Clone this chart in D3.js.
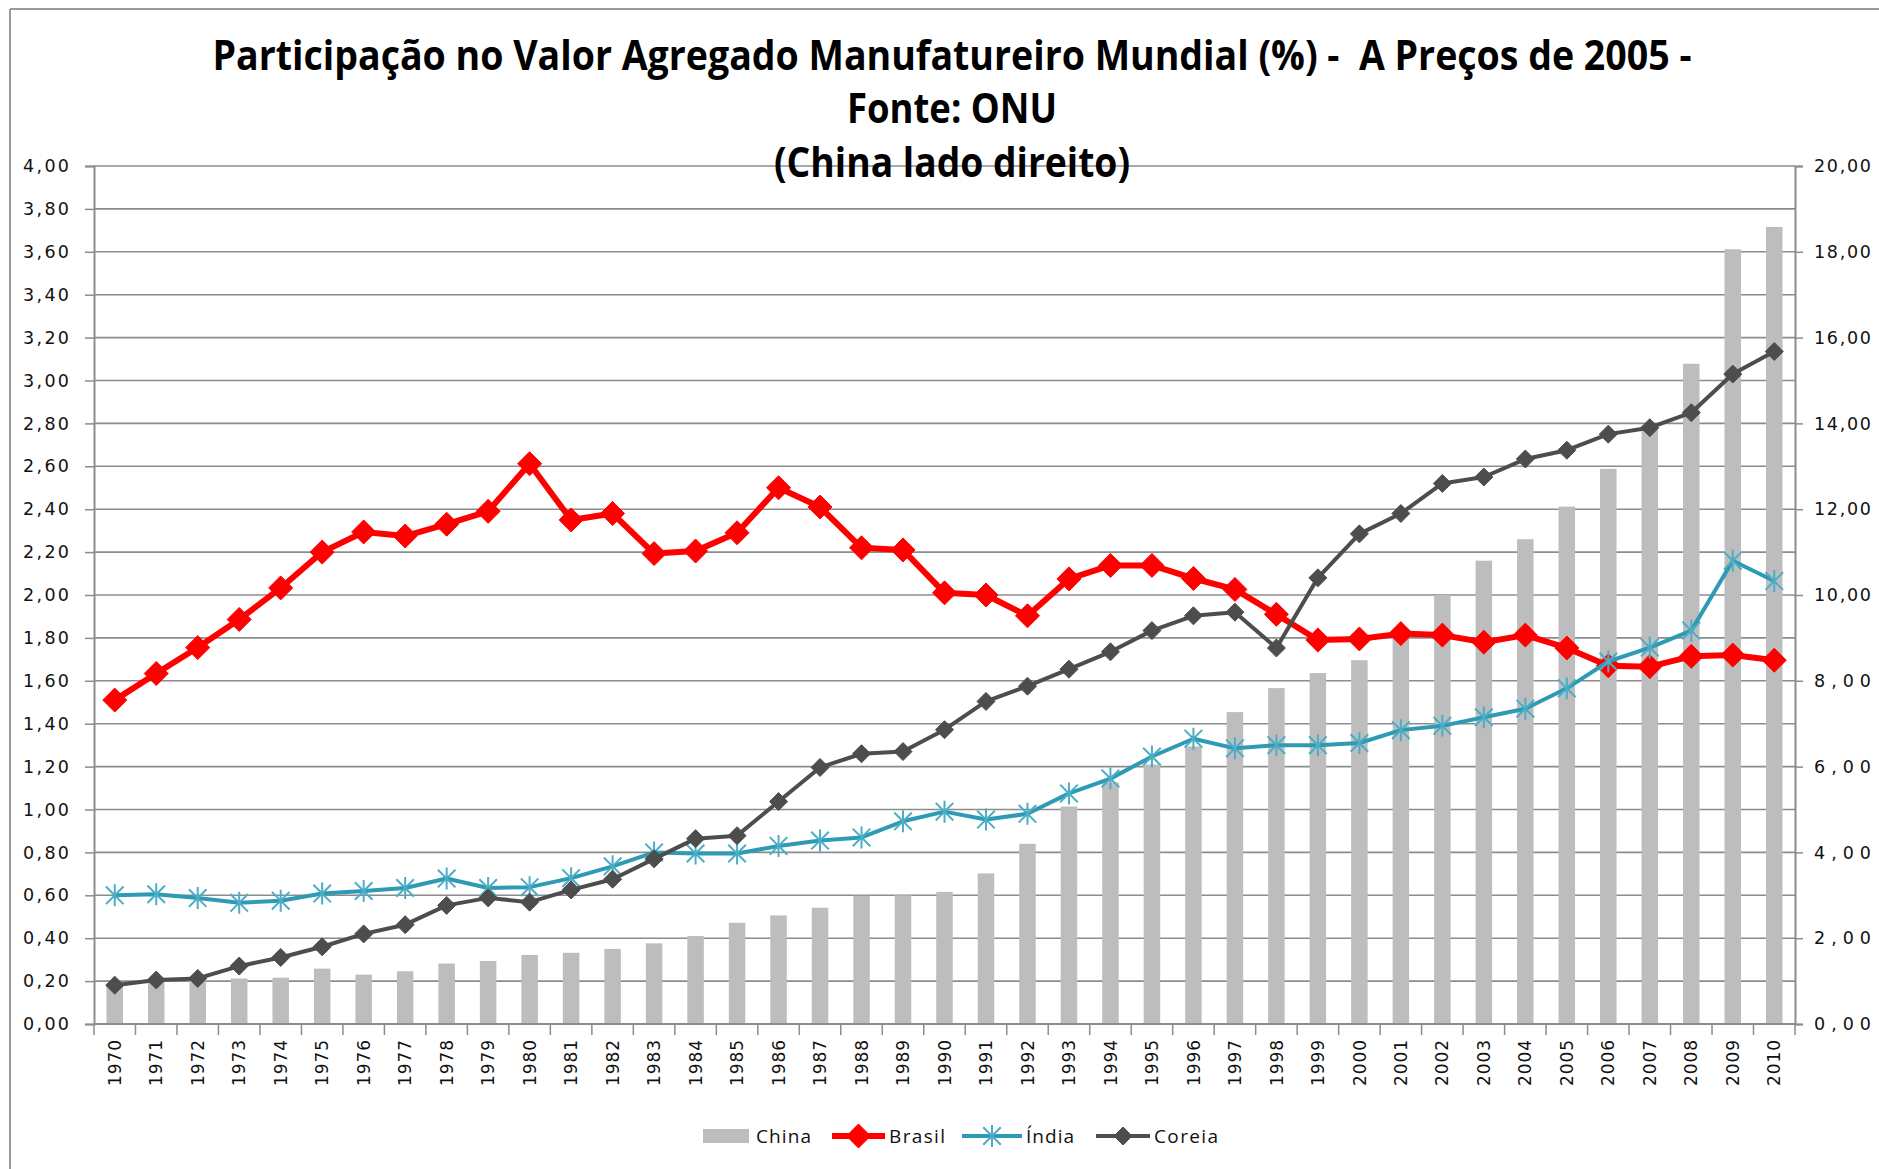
<!DOCTYPE html>
<html>
<head>
<meta charset="utf-8">
<script src="https://cdn.jsdelivr.net/npm/d3@7"></script>
<style>
  body { margin: 0; background: #fff; }
  svg { display: block; }
</style>
</head>
<body>
<div id="chart"></div>
<script>
// categories and series
const years = [1970, 1971, 1972, 1973, 1974, 1975, 1976, 1977, 1978, 1979,
               1980, 1981, 1982, 1983, 1984, 1985, 1986, 1987, 1988, 1989,
               1990, 1991, 1992, 1993, 1994, 1995, 1996, 1997, 1998, 1999,
               2000, 2001, 2002, 2003, 2004, 2005, 2006, 2007, 2008, 2009, 2010];

// China - right axis
const china = [0.95, 1.00, 1.05, 1.06, 1.08, 1.29, 1.15, 1.23, 1.41, 1.47,
               1.61, 1.66, 1.75, 1.88, 2.05, 2.36, 2.53, 2.71, 2.99, 3.00,
               3.08, 3.51, 4.20, 5.07, 5.63, 6.05, 6.47, 7.27, 7.83, 8.18,
               8.48, 9.10, 10.00, 10.80, 11.30, 12.06, 12.94, 13.95, 15.39, 18.06, 18.58];

const brasil = [1.51, 1.634, 1.755, 1.886, 2.033, 2.20, 2.294, 2.275, 2.33, 2.39,
                2.612, 2.35, 2.38, 2.193, 2.205, 2.29, 2.50, 2.41, 2.22, 2.21,
                2.01, 2.00, 1.903, 2.075, 2.138, 2.138, 2.077, 2.026, 1.91, 1.79,
                1.795, 1.82, 1.813, 1.78, 1.813, 1.753, 1.67, 1.666, 1.714, 1.72, 1.696];

const india = [0.60, 0.605, 0.587, 0.565, 0.575, 0.608, 0.62, 0.634, 0.678, 0.634,
               0.638, 0.68, 0.735, 0.80, 0.795, 0.795, 0.83, 0.855, 0.87, 0.945,
               0.99, 0.953, 0.98, 1.075, 1.144, 1.247, 1.33, 1.285, 1.30, 1.30,
               1.31, 1.37, 1.39, 1.43, 1.47, 1.565, 1.69, 1.755, 1.834, 2.16, 2.065];

const coreia = [0.181, 0.205, 0.2125, 0.27, 0.31, 0.36, 0.42, 0.463, 0.553, 0.588,
                0.568, 0.625, 0.675, 0.77, 0.864, 0.878, 1.037, 1.196, 1.26, 1.27,
                1.372, 1.504, 1.575, 1.654, 1.735, 1.834, 1.903, 1.92, 1.753, 2.08,
                2.285, 2.38, 2.52, 2.55, 2.634, 2.675, 2.75, 2.78, 2.85, 3.03, 3.135];

const leftTicks = [0, 0.2, 0.4, 0.6, 0.8, 1.0, 1.2, 1.4, 1.6, 1.8, 2.0,
                   2.2, 2.4, 2.6, 2.8, 3.0, 3.2, 3.4, 3.6, 3.8, 4.0];
const rightTicks = [0, 2, 4, 6, 8, 10, 12, 14, 16, 18, 20];

const titleLines = ["Participação no Valor Agregado Manufatureiro Mundial (%) -  A Preços de 2005 -",
                    "Fonte: ONU",
                    "(China lado direito)"];

const W = 1879, H = 1169;
const plot = {left: 94, right: 1795, top: 166, bottom: 1024};

const svg = d3.select("#chart").append("svg")
    .attr("width", W)
    .attr("height", H);

// outer frame (top and left edge of the chart box)
svg.append("line").attr("x1", 10).attr("y1", 9).attr("x2", W).attr("y2", 9)
    .attr("stroke", "#9a9a9a").attr("stroke-width", 2);
svg.append("line").attr("x1", 10).attr("y1", 9).attr("x2", 10).attr("y2", H)
    .attr("stroke", "#9a9a9a").attr("stroke-width", 2);

// scales
const x = d3.scaleBand().domain(years).range([plot.left, plot.right]).padding(0);
const yL = d3.scaleLinear().domain([0, 4]).range([plot.bottom, plot.top]);
const yR = d3.scaleLinear().domain([0, 20]).range([plot.bottom, plot.top]);

const fmt = v => d3.format(".2f")(v).replace(".", ",");

// gridlines
svg.append("g")
    .selectAll("line")
    .data(leftTicks.filter(d => d > 0))
    .join("line")
    .attr("x1", plot.left).attr("x2", plot.right)
    .attr("y1", d => yL(d)).attr("y2", d => yL(d))
    .attr("stroke", "#8c8c8c")
    .attr("stroke-width", 1.6);

// China bars
const barW = 16.5;
svg.append("g")
    .selectAll("rect")
    .data(years)
    .join("rect")
    .attr("x", (d) => x(d) + x.bandwidth() / 2 - barW / 2)
    .attr("width", barW)
    .attr("y", (d, i) => yR(china[i]))
    .attr("height", (d, i) => plot.bottom - yR(china[i]))
    .attr("fill", "#bdbdbd");

// left axis
const axL = svg.append("g")
    .attr("transform", `translate(${plot.left},0)`)
    .call(d3.axisLeft(yL).tickValues(leftTicks).tickSize(9).tickFormat(fmt));
axL.select(".domain").attr("stroke", "#8c8c8c").attr("stroke-width", 2);
axL.selectAll(".tick line").attr("stroke", "#8c8c8c").attr("stroke-width", 1.5);
axL.selectAll(".tick text")
    .attr("x", -25)
    .attr("font-family", "DejaVu Sans, Verdana, sans-serif")
    .attr("font-size", 17.5)
    .attr("fill", "#111")
    .attr("textLength", 46)
    .attr("lengthAdjust", "spacing");

// right axis
const axR = svg.append("g")
    .attr("transform", `translate(${plot.right},0)`)
    .call(d3.axisRight(yR).tickValues(rightTicks).tickSize(8).tickFormat(fmt));
axR.select(".domain").attr("stroke", "#8c8c8c").attr("stroke-width", 2);
axR.selectAll(".tick line").attr("stroke", "#8c8c8c").attr("stroke-width", 1.5);
axR.selectAll(".tick text")
    .attr("x", 19)
    .attr("font-family", "DejaVu Sans, Verdana, sans-serif")
    .attr("font-size", 17.5)
    .attr("fill", "#111")
    .attr("textLength", 57)
    .attr("lengthAdjust", "spacing");

// bottom axis: line, ticks at band edges, rotated year labels
svg.append("line")
    .attr("x1", plot.left).attr("x2", plot.right)
    .attr("y1", plot.bottom).attr("y2", plot.bottom)
    .attr("stroke", "#8c8c8c").attr("stroke-width", 2);

svg.append("g")
    .selectAll("line")
    .data(years)
    .join("line")
    .attr("x1", d => x(d)).attr("x2", d => x(d))
    .attr("y1", plot.bottom).attr("y2", plot.bottom + 11)
    .attr("stroke", "#8c8c8c").attr("stroke-width", 1.5);
svg.append("line")
    .attr("x1", plot.right).attr("x2", plot.right)
    .attr("y1", plot.bottom).attr("y2", plot.bottom + 11)
    .attr("stroke", "#8c8c8c").attr("stroke-width", 1.5);

svg.append("g")
    .selectAll("text")
    .data(years)
    .join("text")
    .attr("transform", d => `translate(${x(d) + x.bandwidth() / 2},1040) rotate(-90)`)
    .attr("text-anchor", "end")
    .attr("dy", "0.36em")
    .attr("font-family", "DejaVu Sans, Verdana, sans-serif")
    .attr("font-size", 17)
    .attr("fill", "#111")
    .attr("textLength", 46)
    .attr("lengthAdjust", "spacing")
    .text(d => d);

// line series
const cx = d => x(d) + x.bandwidth() / 2;

function diamond(r) {
    return `M0,${-r}L${r},0L0,${r}L${-r},0Z`;
}
function star(r) {
    const a = r * 0.8;
    return `M${-a},${-a}L${a},${a}M${-a},${a}L${a},${-a}M0,${-r}L0,${r}`;
}

const series = [
    {name: "Brasil", values: brasil, color: "#ff0000", width: 6, marker: "diamond", size: 12, mColor: "#ff0000"},
    {name: "Índia", values: india, color: "#2f9ab4", width: 4, marker: "star", size: 11, mColor: "#4aaec6"},
    {name: "Coreia", values: coreia, color: "#4d4d4d", width: 4, marker: "diamond", size: 9, mColor: "#4d4d4d"}
];

series.forEach(s => {
    const line = d3.line()
        .x((d, i) => cx(years[i]))
        .y(d => yL(d));

    svg.append("path")
        .datum(s.values)
        .attr("d", line)
        .attr("fill", "none")
        .attr("stroke", s.color)
        .attr("stroke-width", s.width)
        .attr("stroke-linejoin", "round");

    svg.append("g")
        .selectAll("path")
        .data(s.values)
        .join("path")
        .attr("transform", (d, i) => `translate(${cx(years[i])},${yL(d)})`)
        .attr("d", s.marker === "diamond" ? diamond(s.size) : star(s.size))
        .attr("fill", s.marker === "diamond" ? s.mColor : "none")
        .attr("stroke", s.mColor)
        .attr("stroke-width", s.marker === "diamond" ? 1 : 2);
});

// title
const titleY = [70, 123, 177];
const titleLen = [1479, 210, 356];
svg.append("g")
    .selectAll("text")
    .data(titleLines)
    .join("text")
    .attr("x", 952)
    .attr("y", (d, i) => titleY[i])
    .attr("text-anchor", "middle")
    .attr("font-family", "Open Sans, sans-serif")
    .attr("font-weight", "bold")
    .attr("font-size", 42)
    .attr("fill", "#000")
    .style("white-space", "pre")
    .attr("textLength", (d, i) => titleLen[i])
    .attr("lengthAdjust", "spacingAndGlyphs")
    .text(d => d);

// legend
const legY = 1136;
const lg = svg.append("g").attr("font-family", "Open Sans, sans-serif").attr("font-size", 19).attr("fill", "#111");
lg.append("rect").attr("x", 703).attr("y", legY - 7).attr("width", 46).attr("height", 14).attr("fill", "#bdbdbd");
lg.append("text").attr("x", 756).attr("y", legY).attr("dy", "0.35em").attr("textLength", 55).text("China");

const legItems = [
    {s: series[0], x1: 832, x2: 885, tx: 889, tl: 56},
    {s: series[1], x1: 962, x2: 1022, tx: 1026, tl: 48},
    {s: series[2], x1: 1096, x2: 1150, tx: 1154, tl: 64}
];
legItems.forEach(it => {
    lg.append("line")
        .attr("x1", it.x1).attr("x2", it.x2)
        .attr("y1", legY).attr("y2", legY)
        .attr("stroke", it.s.color)
        .attr("stroke-width", it.s.width);
    lg.append("path")
        .attr("transform", `translate(${(it.x1 + it.x2) / 2},${legY})`)
        .attr("d", it.s.marker === "diamond" ? diamond(it.s.size) : star(it.s.size))
        .attr("fill", it.s.marker === "diamond" ? it.s.mColor : "none")
        .attr("stroke", it.s.mColor)
        .attr("stroke-width", it.s.marker === "diamond" ? 1 : 2);
    lg.append("text")
        .attr("x", it.tx).attr("y", legY).attr("dy", "0.35em")
        .attr("textLength", it.tl)
        .text(it.s.name);
});
</script>
</body>
</html>
